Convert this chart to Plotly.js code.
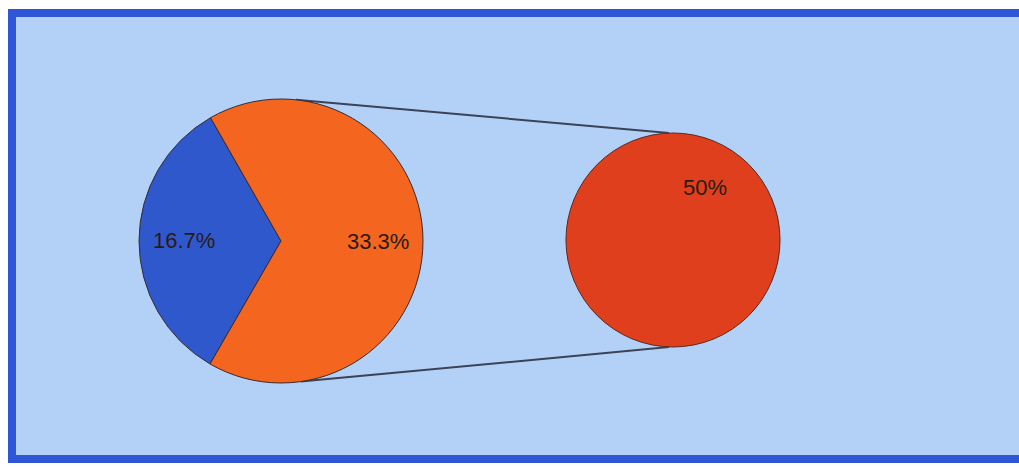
<!DOCTYPE html>
<html>
<head>
<meta charset="utf-8">
<script src="https://cdn.plot.ly/plotly-3.0.1.min.js"></script>
<style>html,body{margin:0;padding:0;background:#fff;}#chart{width:1019px;height:467px;}</style>
</head>
<body>
<div id="chart"></div>
<script>
// ---- data ----
const mainLabels = ['Part A', 'Part B'];
const mainValues = [16.7, 33.3];
const secondLabels = ['Other'];
const secondValues = [50];

const mainColors = ['#2f58cc', '#f4651f'];
const secondColors = ['#df3f1c'];

const W = 1019, H = 467;
const startDeg = 210; // clockwise from 12 o'clock, start of first slice
// pie domains in paper coords
const leftDom = {x: [139 / W, 423 / W], y: [1 - 383 / H, 1 - 99 / H]};
const rightDom = {x: [566 / W, 780 / W], y: [1 - 347 / H, 1 - 133 / H]};

function geom(d) {
  const w = (d.x[1] - d.x[0]) * W, h = (d.y[1] - d.y[0]) * H;
  return {cx: (d.x[0] + d.x[1]) / 2 * W, cy: (1 - (d.y[0] + d.y[1]) / 2) * H, r: Math.min(w, h) / 2};
}
const gl = geom(leftDom), gr = geom(rightDom);
function px(x, y) { return [x / W, 1 - y / H]; }
const a1 = 84 * Math.PI / 180, a2 = -82 * Math.PI / 180;
const t0 = px(gl.cx + gl.r * Math.cos(a1), gl.cy - gl.r * Math.sin(a1));
const t1 = px(gr.cx - 4, gr.cy - gr.r);
const b0 = px(gl.cx + gl.r * Math.cos(a2), gl.cy - gl.r * Math.sin(a2));
const b1 = px(gr.cx - 4, gr.cy + gr.r);

const textFont = {family: 'Liberation Sans, Arial, sans-serif', size: 22, color: '#2b1a14'};

// label annotations at slice mid-angles
const annotations = [];
const total = mainValues.reduce((a, b) => a + b, 0);
let acc = 0;
mainValues.forEach(v => {
  const mid = (startDeg + (acc + v / 2) / total * 360) * Math.PI / 180;
  acc += v;
  const p = px(gl.cx + 0.68 * gl.r * Math.sin(mid), gl.cy - 0.68 * gl.r * Math.cos(mid));
  annotations.push({xref: 'paper', yref: 'paper', x: p[0], y: p[1], xanchor: 'center', yanchor: 'middle',
    text: v + '%', showarrow: false, font: textFont});
});
const rp = px(gr.cx + 32, gr.cy - 52);
annotations.push({xref: 'paper', yref: 'paper', x: rp[0], y: rp[1], xanchor: 'center', yanchor: 'middle',
  text: secondValues[0] + '%', showarrow: false, font: textFont});

const traces = [
  {
    type: 'pie', labels: mainLabels, values: mainValues, sort: false,
    direction: 'counterclockwise', rotation: startDeg - 360,
    marker: {colors: mainColors, line: {color: '#3a2a30', width: 1}},
    textinfo: 'none', domain: leftDom, hoverinfo: 'label+value', showlegend: false
  },
  {
    type: 'pie', labels: secondLabels, values: secondValues, sort: false,
    marker: {colors: secondColors, line: {color: '#5a2a20', width: 1}},
    textinfo: 'none', domain: rightDom, hoverinfo: 'label+value', showlegend: false
  }
];

const layout = {
  width: W, height: H,
  margin: {l: 0, r: 0, t: 0, b: 0},
  paper_bgcolor: '#ffffff',
  showlegend: false,
  shapes: [
    {type: 'rect', xref: 'paper', yref: 'paper', x0: 12 / W, x1: 1.02, y0: 1 - 459 / H, y1: 1 - 13 / H,
     fillcolor: '#b3d1f6', line: {color: '#2f56d6', width: 8}, layer: 'below'},
    {type: 'line', xref: 'paper', yref: 'paper', x0: t0[0], y0: t0[1], x1: t1[0], y1: t1[1],
     line: {color: '#3b4356', width: 2}, layer: 'below'},
    {type: 'line', xref: 'paper', yref: 'paper', x0: b0[0], y0: b0[1], x1: b1[0], y1: b1[1],
     line: {color: '#3b4356', width: 2}, layer: 'below'}
  ],
  annotations: annotations
};

Plotly.newPlot('chart', traces, layout, {displayModeBar: false, staticPlot: true});
</script>
</body>
</html>
